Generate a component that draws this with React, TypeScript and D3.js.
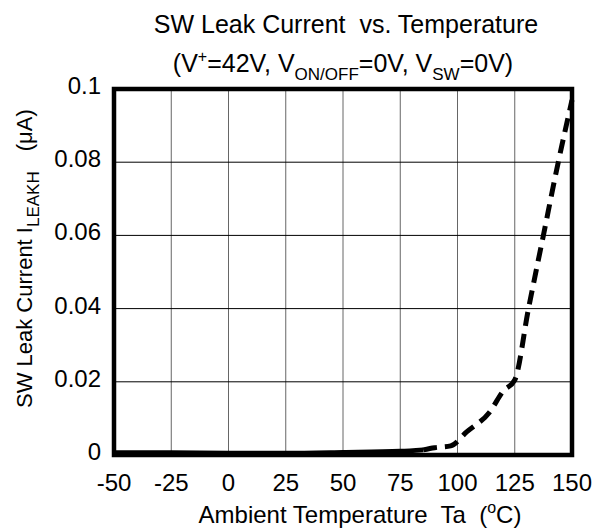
import React from "react";
import * as d3 from "d3";

const xTicks = [-50, -25, 0, 25, 50, 75, 100, 125, 150];
const yTicks = [0, 0.02, 0.04, 0.06, 0.08, 0.1];
const yTickLabels = ["0", "0.02", "0.04", "0.06", "0.08", "0.1"];

// solid portion of the curve
const solidTemp = [-50, -25, 0, 25, 50, 75, 85];
const solidLeak = [0.0006, 0.0006, 0.0005, 0.0005, 0.0007, 0.001, 0.0014];
// dashed portion of the curve
const dashTemp = [85, 90, 97, 104, 114, 120, 125, 131, 137.5, 144, 150];
const dashLeak = [0.0014, 0.002, 0.0025, 0.0063, 0.0117, 0.0175, 0.0205, 0.04, 0.06, 0.08, 0.097];

const W = 603;
const H = 531;
const L = 114, R = 572, T = 89, B = 455;
const FONT = "'Liberation Sans', Arial, sans-serif";

export default function App() {
  const x = d3.scaleLinear().domain([-50, 150]).range([L, R]);
  const y = d3.scaleLinear().domain([0, 0.1]).range([B, T]);
  const line = d3
    .line<[number, number]>()
    .x((d) => x(d[0]))
    .y((d) => y(d[1]))
    .curve(d3.curveMonotoneX);
  const solid = solidTemp.map((t, i) => [t, solidLeak[i]] as [number, number]);
  const dashed = dashTemp.map((t, i) => [t, dashLeak[i]] as [number, number]);

  return (
    <svg
      width={W}
      height={H}
      style={{ position: "absolute", left: 0, top: 0, background: "#fff" }}
      fontFamily={FONT}
    >
      <rect x={0} y={0} width={W} height={H} fill="#fff" />
      {/* grid */}
      {xTicks.slice(1, -1).map((t) => (
        <line key={"gx" + t} x1={x(t)} x2={x(t)} y1={T} y2={B} stroke="#666" strokeWidth={1} />
      ))}
      {yTicks.slice(1, -1).map((t) => (
        <line key={"gy" + t} x1={L} x2={R} y1={y(t)} y2={y(t)} stroke="#000" strokeWidth={1} />
      ))}
      {/* curve */}
      <path d={line(solid) || ""} fill="none" stroke="#000" strokeWidth={5} />
      <path
        d={line(dashed) || ""}
        fill="none"
        stroke="#000"
        strokeWidth={5}
        strokeDasharray="14 8"
      />
      {/* frame */}
      <rect x={L} y={T} width={R - L} height={B - T} fill="none" stroke="#000" strokeWidth={4.5} />
      {/* y tick labels */}
      {yTicks.map((t, i) => (
        <text key={"yl" + t} x={101} y={y(t) + 5} textAnchor="end" fontSize={24} fill="#000">
          {yTickLabels[i]}
        </text>
      ))}
      {/* x tick labels */}
      {xTicks.map((t) => (
        <text key={"xl" + t} x={x(t)} y={491} textAnchor="middle" fontSize={24} fill="#000">
          {t}
        </text>
      ))}
      {/* titles */}
      <text x={346} y={33} textAnchor="middle" fontSize={25} fill="#000" xmlSpace="preserve">
        SW Leak Current  vs. Temperature
      </text>
      <text x={343} y={72} textAnchor="middle" fontSize={25} fill="#000">
        <tspan>(V</tspan>
        <tspan fontSize={16} dy={-10}>+</tspan>
        <tspan dy={10}>=42V, V</tspan>
        <tspan fontSize={17} dy={8}>ON/OFF</tspan>
        <tspan dy={-8}>=0V, V</tspan>
        <tspan fontSize={17} dy={8}>SW</tspan>
        <tspan dy={-8}>=0V)</tspan>
      </text>
      <text x={360} y={523} textAnchor="middle" fontSize={24} fill="#000" xmlSpace="preserve">
        <tspan>Ambient Temperature  Ta  (</tspan>
        <tspan fontSize={16} dy={-10}>o</tspan>
        <tspan dy={10}>C)</tspan>
      </text>
      <text
        transform={`translate(32, 408) rotate(-90)`}
        textAnchor="start"
        fontSize={22}
        fill="#000"
      >
        <tspan>SW Leak Current I</tspan>
        <tspan fontSize={17} dy={7}>LEAKH</tspan>
        <tspan dy={-7} dx={20}>(μA)</tspan>
      </text>
    </svg>
  );
}
